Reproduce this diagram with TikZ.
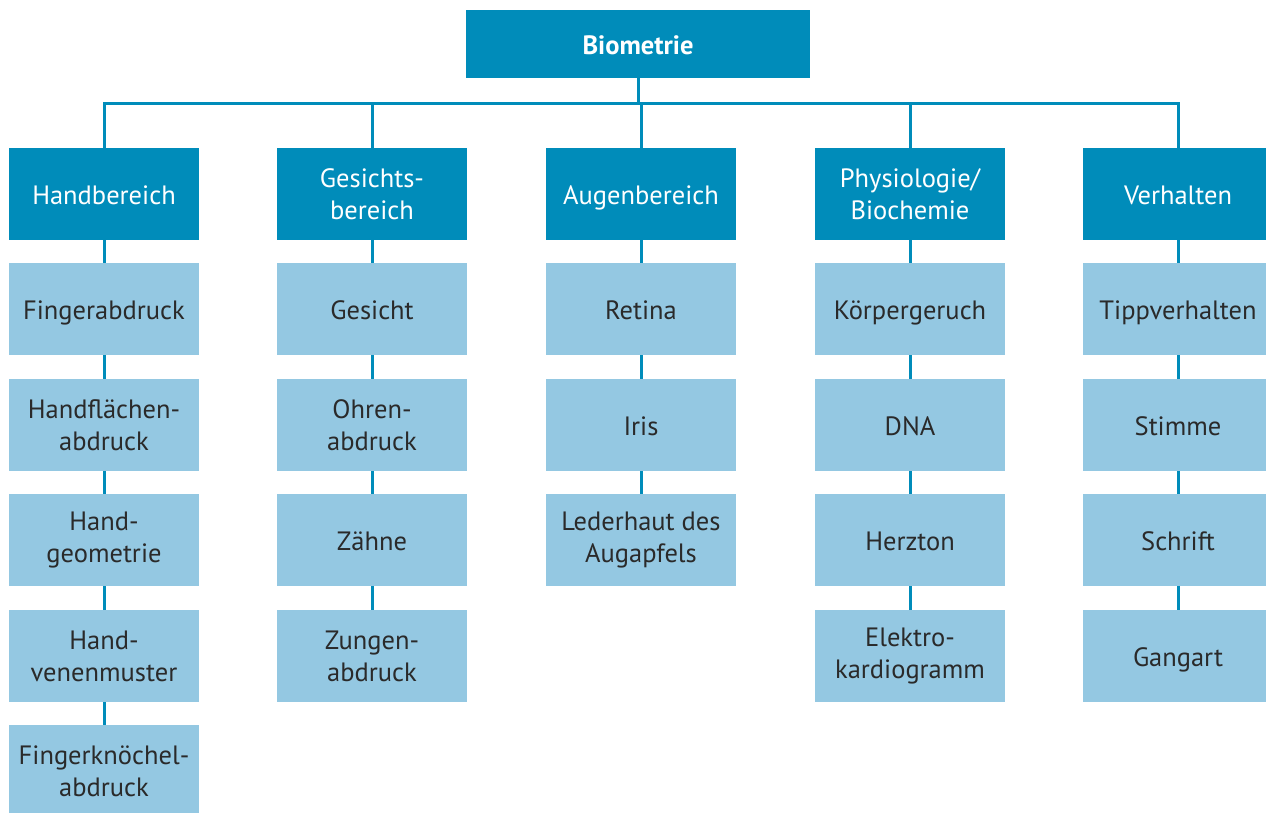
\documentclass[tikz,border=0pt]{standalone}
\usepackage{fontspec}
\setmainfont{PT Sans}
\usetikzlibrary{positioning}
\definecolor{biodark}{HTML}{008CBA}
\definecolor{biolight}{HTML}{94C8E2}
\definecolor{biotext}{HTML}{2A2A2A}
\tikzset{
	rootbox/.style={fill=biodark, text=white, font=\fontsize{26.5}{32}\selectfont\bfseries, minimum width=344pt, minimum height=68pt, inner sep=0pt, outer sep=0pt, align=center, text height=21pt, text depth=0pt},
	catbox/.style={fill=biodark, text=white, font=\fontsize{26.5}{32}\selectfont, minimum width=190pt, minimum height=92pt, inner sep=0pt, outer sep=0pt, align=center},
	itembox/.style={fill=biolight, text=biotext, font=\fontsize{26.5}{32}\selectfont, minimum width=190pt, minimum height=92pt, inner sep=0pt, outer sep=0pt, align=center},
	oneline/.style={text height=20.5pt, text depth=0pt},
	link/.style={draw=biodark, line width=3pt}
}

\begin{document}
\begin{tikzpicture}[x=1pt, y=-1pt]
			%%%%% START %%%%%
			\useasboundingbox (0, 0) rectangle (1266, 813);
			
			\node[rootbox] (root) at (638, 44) {Biometrie};
			\coordinate (bus) at (638, 104);
			
			\node[catbox, oneline] (hand) at (104, 194) {Handbereich};
			\node[catbox] (gesicht) at (372, 194) {Gesichts-\\bereich};
			\node[catbox, oneline] (auge) at (641, 194) {Augenbereich};
			\node[catbox] (physio) at (910, 194) {Physiologie/\\Biochemie};
			\node[catbox, oneline] (verhalten) at (1178, 194) {Verhalten};
			
			%%%%% Handbereich
			\node[itembox, oneline] (finger) at (104, 309) {Fingerabdruck};
			\node[itembox] (handfl) at (104, 425) {Handflächen-\\abdruck};
			\node[itembox] (handgeo) at (104, 540) {Hand-\\geometrie};
			\node[itembox] (handvene) at (104, 656) {Hand-\\venenmuster};
			\node[itembox] (knoechel) at (104, 771) {Fingerknöchel-\\abdruck};
			
			%%%%% Gesichtsbereich
			\node[itembox, oneline] (gesichtb) at (372, 309) {Gesicht};
			\node[itembox] (ohren) at (372, 425) {Ohren-\\abdruck};
			\node[itembox, oneline] (zaehne) at (372, 540) {Zähne};
			\node[itembox] (zunge) at (372, 656) {Zungen-\\abdruck};
			
			%%%%% Augenbereich
			\node[itembox, oneline] (retina) at (641, 309) {Retina};
			\node[itembox, oneline] (iris) at (641, 425) {Iris};
			\node[itembox] (lederhaut) at (641, 540) {Lederhaut des\\Augapfels};
			
			%%%%% Physiologie
			\node[itembox, oneline] (geruch) at (910, 309) {Körpergeruch};
			\node[itembox, oneline] (dna) at (910, 425) {DNA};
			\node[itembox, oneline] (herz) at (910, 540) {Herzton};
			\node[itembox] (ekg) at (910, 656) {Elektro-\\kardiogramm};
			
			%%%%% Verhalten
			\node[itembox, oneline] (tipp) at (1178, 309) {Tippverhalten};
			\node[itembox, oneline] (stimme) at (1178, 425) {Stimme};
			\node[itembox, oneline] (schrift) at (1178, 540) {Schrift};
			\node[itembox, oneline] (gang) at (1178, 656) {Gangart};
			
			%%%%% Verbindungen
			\draw[link] (root.south) -- (bus);
			\draw[link] (hand.north) |- (bus);
			\draw[link] (gesicht.north) |- (bus);
			\draw[link] (auge.north) |- (bus);
			\draw[link] (physio.north) |- (bus);
			\draw[link] (verhalten.north) |- (bus);
			
			\draw[link] (hand) -- (finger);
			\draw[link] (finger) -- (handfl);
			\draw[link] (handfl) -- (handgeo);
			\draw[link] (handgeo) -- (handvene);
			\draw[link] (handvene) -- (knoechel);
			
			\draw[link] (gesicht) -- (gesichtb);
			\draw[link] (gesichtb) -- (ohren);
			\draw[link] (ohren) -- (zaehne);
			\draw[link] (zaehne) -- (zunge);
			
			\draw[link] (auge) -- (retina);
			\draw[link] (retina) -- (iris);
			\draw[link] (iris) -- (lederhaut);
			
			\draw[link] (physio) -- (geruch);
			\draw[link] (geruch) -- (dna);
			\draw[link] (dna) -- (herz);
			\draw[link] (herz) -- (ekg);
			
			\draw[link] (verhalten) -- (tipp);
			\draw[link] (tipp) -- (stimme);
			\draw[link] (stimme) -- (schrift);
			\draw[link] (schrift) -- (gang);
			%%%%% END %%%%%
\end{tikzpicture}
\end{document}
